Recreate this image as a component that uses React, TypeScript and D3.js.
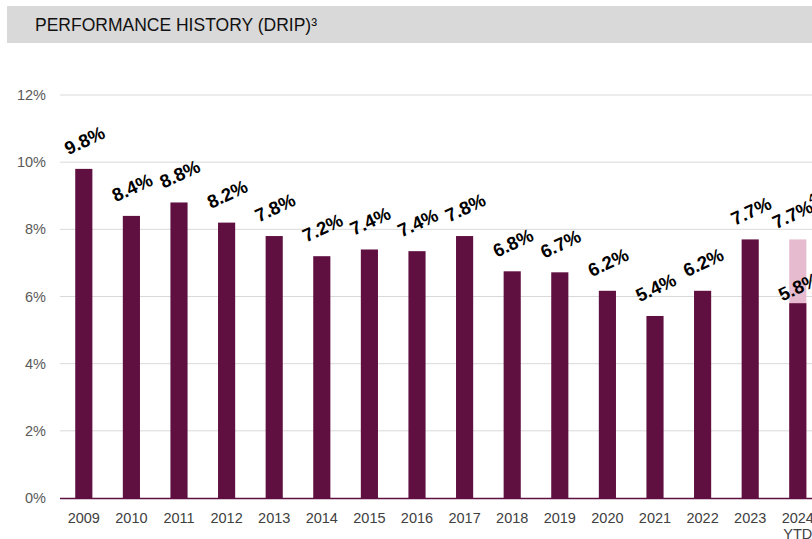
import React from "react";
import * as d3 from "d3";

const years = ["2009","2010","2011","2012","2013","2014","2015","2016","2017","2018","2019","2020","2021","2022","2023","2024"];
const subLabels = ["","","","","","","","","","","","","","","","YTD"];
const values = [9.8, 8.4, 8.8, 8.2, 7.8, 7.2, 7.4, 7.35, 7.8, 6.75, 6.72, 6.17, 5.42, 6.17, 7.7, 5.8];
const labels = ["9.8%","8.4%","8.8%","8.2%","7.8%","7.2%","7.4%","7.4%","7.8%","6.8%","6.7%","6.2%","5.4%","6.2%","7.7%","5.8%"];
const upperYear = "2024";
const upperValue = 7.7;
const upperLabel = "7.7%";
const upperNote = "4";
const yTicks = [0, 2, 4, 6, 8, 10, 12];
const title = "PERFORMANCE HISTORY (DRIP)³";

const W = 812, H = 539;
const DARK = "#5f0f40";
const PINK = "#e7bbcf";
const FONT = "'Liberation Sans', Arial, sans-serif";

export default function App() {
  const x = d3.scaleBand<string>().domain(years).range([60, 60 + 16 * 47.6]).paddingInner(0.64).paddingOuter(0.32);
  const y = d3.scaleLinear().domain([0, 12]).range([498, 95]);
  const bw = x.bandwidth();
  const rot = -25;
  const off = 28;
  return (
    <svg width={W} height={H} style={{ position: "absolute", left: 0, top: 0 }} fontFamily={FONT}>
      <rect x={7} y={6} width={W - 7} height={37} fill="#d9d9d9" />
      <text x={35} y={31} fontSize={17.5} fill="#111">{title}</text>
      {yTicks.map((t) => (
        <g key={t}>
          {t > 0 && <line x1={60} x2={W} y1={y(t)} y2={y(t)} stroke="#d9d9d9" strokeWidth={1} />}
          <text x={46} y={y(t) + 5} textAnchor="end" fontSize={14.5} fill="#595959">{t}%</text>
        </g>
      ))}
      <rect x={x(upperYear)!} y={y(upperValue)} width={bw} height={y(0) - y(upperValue)} fill={PINK} />
      {years.map((yr, i) => (
        <rect key={yr} x={x(yr)!} y={y(values[i])} width={bw} height={y(0) - y(values[i])} fill={DARK} />
      ))}
      <line x1={60} x2={W} y1={498.5} y2={498.5} stroke={DARK} strokeWidth={1.5} />
      {years.map((yr, i) => (
        <g key={"l" + yr}>
          <text x={x(yr)! + bw / 2} y={523} textAnchor="middle" fontSize={14.5} fill="#404040">{yr}</text>
          {subLabels[i] && <text x={x(yr)! + bw / 2} y={539} textAnchor="middle" fontSize={14.5} fill="#404040">{subLabels[i]}</text>}
        </g>
      ))}
      {years.map((yr, i) => {
        const cx = x(yr)! + bw / 2 + 1;
        const cy = y(values[i]) - (yr === upperYear ? 16 : off);
        return (
          <text key={"v" + yr} transform={`translate(${cx},${cy}) rotate(${rot})`} textAnchor="middle" dy={6} fontSize={18.5} fontWeight="bold" fill="#000">{labels[i]}</text>
        );
      })}
      {(() => {
        const cx = x(upperYear)! + bw / 2 - 2;
        const cy = y(upperValue) - 26;
        return (
          <text transform={`translate(${cx},${cy}) rotate(${rot})`} textAnchor="middle" dy={6} fontSize={18.5} fontWeight="bold" fill="#000">{upperLabel}<tspan fontSize={12} dy={-9}>{upperNote}</tspan></text>
        );
      })()}
    </svg>
  );
}
